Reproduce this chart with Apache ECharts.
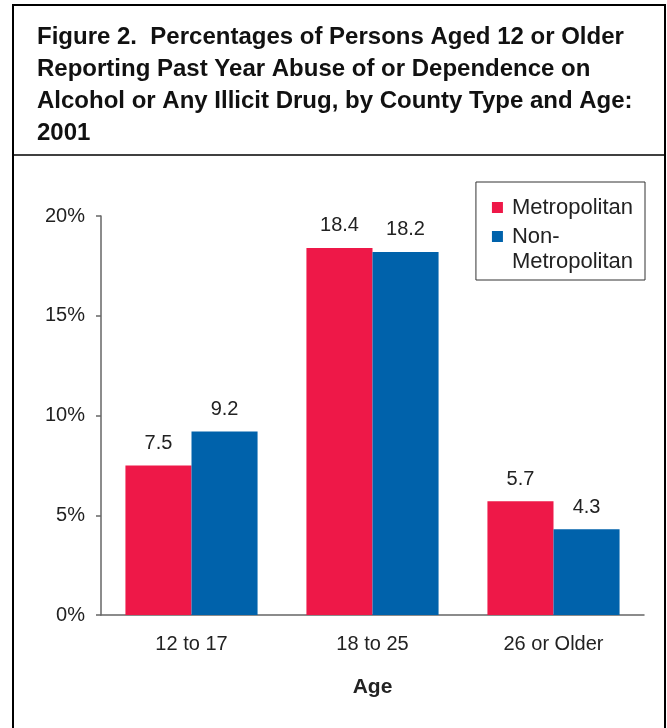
<!DOCTYPE html>
<html><head><meta charset="utf-8">
<script src="https://cdn.jsdelivr.net/npm/echarts@6/dist/echarts.min.js"></script>
<style>html,body{margin:0;padding:0;background:#fff}#c{width:667px;height:728px}</style>
</head><body><div id="c"></div>
<script>
var categories = ['12 to 17', '18 to 25', '26 or Older'];
var metropolitan = [7.5, 18.4, 5.7];
var nonMetropolitan = [9.2, 18.2, 4.3];
var yTicks = [0, 5, 10, 15, 20];
var titleText = 'Figure 2.  Percentages of Persons Aged 12 or Older\nReporting Past Year Abuse of or Dependence on\nAlcohol or Any Illicit Drug, by County Type and Age:\n2001';

var chart = echarts.init(document.getElementById('c'), null, {renderer: 'canvas'});
var font = '"Liberation Sans", Arial, Helvetica, sans-serif';
var lbl = {show: true, position: 'top', distance: 12, fontSize: 20, color: '#222', fontFamily: font,
  formatter: function (p) { return p.value.toFixed(1); }};
chart.setOption({
  animation: false,
  backgroundColor: '#fff',
  title: {
    text: titleText, left: 37, top: 21, padding: 0,
    textStyle: {fontFamily: font, fontWeight: 'bold', fontSize: 24, lineHeight: 32, color: '#111'}
  },
  graphic: [
    {type: 'rect', shape: {x: 13, y: 5, width: 652, height: 740}, style: {fill: 'none', stroke: '#000', lineWidth: 2}, silent: true},
    {type: 'line', shape: {x1: 13, y1: 155, x2: 665, y2: 155}, style: {stroke: '#000', lineWidth: 1.5}, silent: true}
  ],
  legend: {
    orient: 'vertical', right: 22, top: 182, itemWidth: 11, itemHeight: 11, itemGap: -21,
    padding: [13, 12, 6, 16], borderColor: '#333', borderWidth: 1,
    icon: 'rect', selectedMode: false,
    formatter: function (n) { return n === 'Non-Metropolitan' ? ' \nNon-\nMetropolitan' : n; },
    textStyle: {fontFamily: font, fontSize: 22, color: '#222', lineHeight: 25, padding: [0, 0, 0, 4]},
    data: ['Metropolitan', 'Non-Metropolitan']
  },
  grid: {left: 101, right: 23, top: 216, bottom: 113, containLabel: false},
  xAxis: {
    type: 'category', data: categories,
    name: 'Age', nameLocation: 'middle', nameGap: 62,
    nameTextStyle: {fontFamily: font, fontSize: 21, fontWeight: 'bold', color: '#222'},
    axisLine: {lineStyle: {color: '#666', width: 1.5}},
    axisTick: {show: false},
    axisLabel: {fontFamily: font, fontSize: 20, color: '#222', margin: 19}
  },
  yAxis: {
    type: 'value', min: yTicks[0], max: yTicks[yTicks.length - 1], interval: 5,
    splitLine: {show: false},
    axisLine: {show: true, lineStyle: {color: '#666', width: 1.5}},
    axisTick: {show: true, length: 5, lineStyle: {color: '#666', width: 1.5}},
    axisLabel: {fontFamily: font, fontSize: 20, color: '#222', margin: 16, formatter: '{value}%'}
  },
  series: [
    {name: 'Metropolitan', type: 'bar', data: metropolitan, barGap: '0%', barCategoryGap: '27%',
     itemStyle: {color: '#EE1848'}, label: lbl},
    {name: 'Non-Metropolitan', type: 'bar', data: nonMetropolitan,
     itemStyle: {color: '#0062AB'}, label: lbl}
  ]
});
</script></body></html>
